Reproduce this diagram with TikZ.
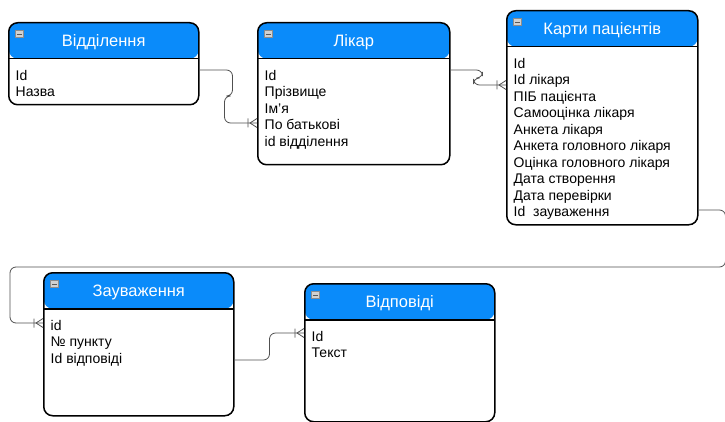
\documentclass[tikz,border=0pt]{standalone}
\usepackage{fontspec}
\setmainfont{Liberation Sans}
\usetikzlibrary{positioning, calc, decorations.markings}
\definecolor{hdrblue}{HTML}{0A8BFA}
\definecolor{relgray}{HTML}{505050}

\begin{document}
\begin{tikzpicture}[x=1pt, y=-1pt,
    every node/.style={font=\fontsize{14}{16.5}\selectfont},
    ent/.style={draw, line width=1.5pt, rounded corners=9pt, fill=white, anchor=north west, inner sep=0pt,
      path picture={
        \fill[hdrblue] (path picture bounding box.north west) rectangle ([yshift=-36pt]path picture bounding box.north east);
        \draw[line width=1.5pt] ([yshift=-36pt]path picture bounding box.north west) -- ([yshift=-36pt]path picture bounding box.north east);
        \filldraw[fill=black!18, draw=black!45, line width=0.6pt, sharp corners] ([xshift=7pt,yshift=-8pt]path picture bounding box.north west) rectangle ++(8pt,-7pt);
        \draw[black!65, line width=1pt] ([xshift=8.5pt,yshift=-11.5pt]path picture bounding box.north west) -- ++(5pt,0pt);
      }},
    ttl/.style={text=white, font=\fontsize{16.5}{19}\selectfont},
    fld/.style={anchor=north west, align=left, inner sep=0pt},
    rel/.style={draw=relgray, line width=0.8pt, rounded corners=6pt},
    crow/.style={postaction={decorate}, decoration={markings, mark=at position 1 with {
      \draw[relgray, line width=0.8pt, sharp corners] (0pt,4.5pt) -- (-7pt,0pt) -- (0pt,-4.5pt) (-9pt,4.5pt) -- (-9pt,-4.5pt);}}},
  ]
  \useasboundingbox (0,0) rectangle (725,422);

  % Tables
  \node[ent, minimum width=190pt, minimum height=82pt] (vid) at (8,22) {};
  \node[ttl] (vidt) at ([yshift=-20pt]vid.north) {Відділення};
  \node[fld] (vidf) at ([xshift=7.5pt,yshift=-48pt]vid.north west) {Id\\Назва};

  \node[ent, minimum width=192pt, minimum height=142pt] (lik) at (257,22) {};
  \node[ttl] (likt) at ([yshift=-20pt]lik.north) {Лікар};
  \node[fld] (likf) at ([xshift=7.5pt,yshift=-48pt]lik.north west) {Id\\Прізвище\\Ім'я\\По батькові\\id відділення};

  \node[ent, minimum width=191pt, minimum height=214pt] (kar) at (506,10) {};
  \node[ttl] (kart) at ([yshift=-20pt]kar.north) {Карти пацієнтів};
  \node[fld] (karf) at ([xshift=7.5pt,yshift=-48pt]kar.north west) {Id\\Id лікаря\\ПІБ пацієнта\\Самооцінка лікаря\\Анкета лікаря\\Анкета головного лікаря\\Оцінка головного лікаря\\Дата створення\\Дата перевірки\\Id\ \ зауваження};

  \node[ent, minimum width=190pt, minimum height=143pt] (zau) at (43,272) {};
  \node[ttl] (zaut) at ([yshift=-20pt]zau.north) {Зауваження};
  \node[fld] (zauf) at ([xshift=7.5pt,yshift=-48pt]zau.north west) {id\\№ пункту\\Id відповіді};

  \node[ent, minimum width=190pt, minimum height=138pt] (vidp) at (304,283) {};
  \node[ttl] (vidpt) at ([yshift=-20pt]vidp.north) {Відповіді};
  \node[fld] (vidpf) at ([xshift=7.5pt,yshift=-48pt]vidp.north west) {Id\\Текст};

  % Relations
  \coordinate (loopl) at (10,267);
  \draw[rel, crow] ([yshift=-48pt]vid.north east) -- ++(33,0) -- ++(0,26) -- ++(-8,0) |- ([yshift=-101pt]lik.north west);
  \draw[rel, crow] ([yshift=-48pt]lik.north east) -- ++(32,0) -- ++(0,8) -- ++(-9,0) |- ([yshift=-75pt]kar.north west);
  \draw[rel, crow] ([yshift=-200pt]kar.north east) -- ++(27,0) |- (loopl) |- ([yshift=-51pt]zau.north west);
  \draw[rel, crow] ([yshift=-88pt]zau.north east) -- ++(35,0) |- ([yshift=-50pt]vidp.north west);
\end{tikzpicture}
\end{document}
